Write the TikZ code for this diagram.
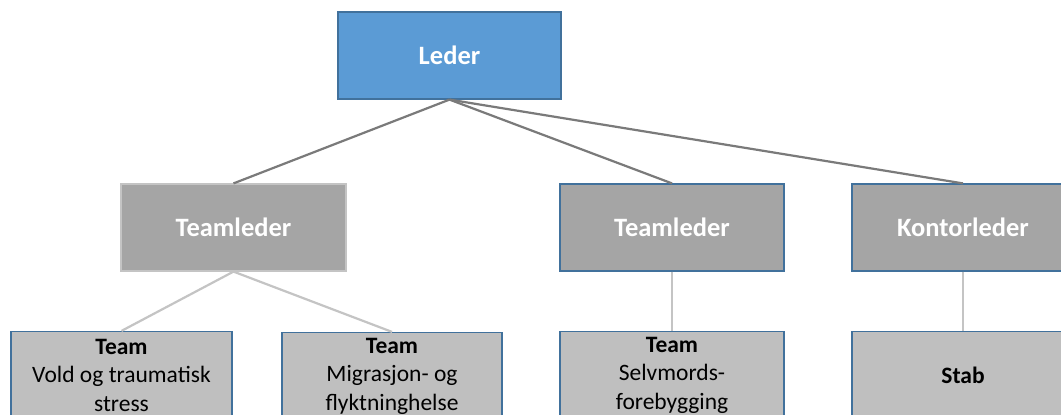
\documentclass[tikz,border=0pt]{standalone}
\usepackage{fontspec}
\setmainfont{Carlito}
\definecolor{ledblue}{HTML}{5B9BD5}
\definecolor{bordblue}{HTML}{41719C}
\definecolor{midgray}{HTML}{A5A5A5}
\definecolor{litgray}{HTML}{BFBFBF}
\definecolor{linedark}{HTML}{7A7A7A}
\definecolor{linelight}{HTML}{C4C4C4}
\tikzset{
  topbox/.style={draw=bordblue, line width=1.2pt, fill=ledblue, text=white, font=\fontsize{26.5}{30}\selectfont\bfseries, minimum width=223pt, minimum height=87pt, inner sep=0pt},
  midbox/.style={draw=bordblue, line width=1.2pt, fill=midgray, text=white, font=\fontsize{26.5}{30}\selectfont\bfseries, minimum width=224pt, minimum height=87pt, inner sep=0pt},
  lowbox/.style={draw=bordblue, line width=1.2pt, fill=litgray, text=black, font=\fontsize{23.5}{28.5}\selectfont, align=center, minimum width=221pt, minimum height=87pt, inner sep=0pt},
  darkline/.style={draw=linedark, line width=2.2pt},
  lightline/.style={draw=linelight, line width=2.2pt}
}
\begin{document}
\begin{tikzpicture}[x=1pt,y=-1pt]
\useasboundingbox (0,0) rectangle (1061,415);
\clip (0,0) rectangle (1061,415);
\fill[white] (0,0) rectangle (1061,415);
\node[topbox] (leder) at (449.5,55.5) {Leder};
\node[midbox, draw=linelight, minimum width=225pt] (tl1) at (233.5,227.5) {Teamleder};
\node[midbox] (tl2) at (672,227.5) {Teamleder};
\node[midbox, minimum width=222pt] (kl) at (963,227.5) {Kontorleder};
\node[lowbox] (b1) at (121.5,375) {\textbf{Team}\\Vold og traumatisk\\stress};
\node[lowbox, minimum width=220pt] (b2) at (392,376) {\textbf{Team}\\Migrasjon- og\\flyktninghelse};
\node[lowbox, minimum width=224pt] (b3) at (672,375) {\textbf{Team}\\Selvmords-\\forebygging};
\node[lowbox, minimum width=222pt] (b4) at (963,375) {\textbf{Stab}};
\draw[darkline] (leder.south) -- (tl1.north);
\draw[darkline] (leder.south) -- (tl2.north);
\draw[darkline] (leder.south) -- (kl.north);
\draw[lightline] (tl1.south) -- (b1.north);
\draw[lightline] (tl1.south) -- (b2.north);
\draw[lightline] (tl2.south) -- (b3.north);
\draw[lightline] (kl.south) -- (b4.north);
\end{tikzpicture}
\end{document}
